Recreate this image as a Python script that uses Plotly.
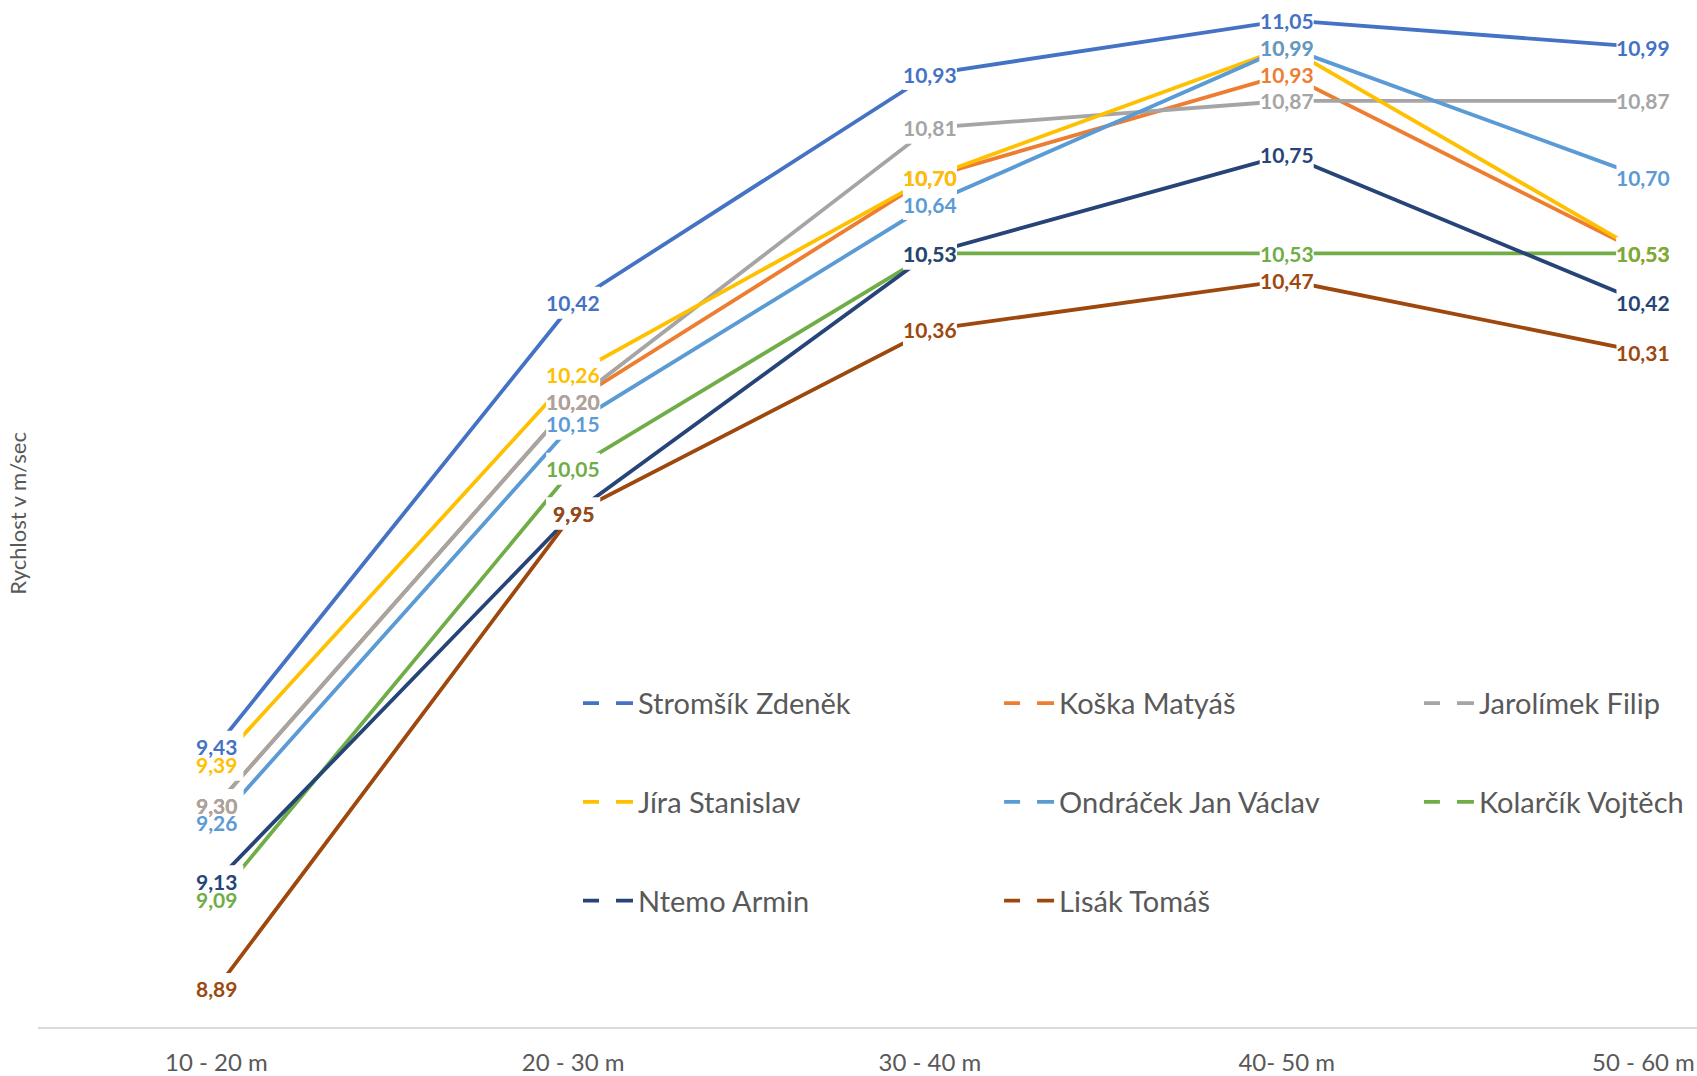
import plotly.graph_objects as go

categories = ["10 - 20 m", "20 - 30 m", "30 - 40 m", "40- 50 m", "50 - 60 m"]

series_names = [
    "Stromšík Zdeněk", "Koška Matyáš", "Jarolímek Filip", "Jíra Stanislav",
    "Ondráček Jan Václav", "Kolarčík Vojtěch", "Ntemo Armin", "Lisák Tomáš",
]

stromsik = [9.43, 10.42, 10.93, 11.05, 10.99]
koska = [9.30, 10.20, 10.70, 10.93, 10.53]
jarolimek = [9.30, 10.20, 10.81, 10.87, 10.87]
jira = [9.39, 10.26, 10.70, 10.99, 10.53]
ondracek = [9.26, 10.15, 10.64, 10.99, 10.70]
kolarcik = [9.09, 10.05, 10.53, 10.53, 10.53]
ntemo = [9.13, 9.95, 10.53, 10.75, 10.42]
lisak = [8.89, 9.95, 10.36, 10.47, 10.31]

series_values = [stromsik, koska, jarolimek, jira, ondracek, kolarcik, ntemo, lisak]
colors = ["#4472C4", "#ED7D31", "#A5A5A5", "#FFC000",
          "#5B9BD5", "#70AD47", "#264478", "#9E480E"]
legend_ids = ["legend", "legend2", "legend3",
              "legend", "legend2", "legend3",
              "legend", "legend2"]

FONT = "Lato"
TEXT_GRAY = "#595959"

xpos = list(range(len(categories)))

fig = go.Figure()

for name, vals, col in zip(series_names, series_values, colors):
    fig.add_trace(go.Scatter(
        x=xpos, y=vals, mode="lines", name=name,
        line=dict(color=col, width=3.8),
        legendgroup=name, showlegend=False, hoverinfo="x+y+name",
    ))

# legend entries (dashed symbol as in the original)
for name, col, lg in zip(series_names, colors, legend_ids):
    fig.add_trace(go.Scatter(
        x=[None], y=[None], mode="lines", name=name,
        line=dict(color=col, width=3.8, dash="16px,17px,18px"),
        legendgroup=name, showlegend=True, legend=lg,
    ))


def fmt(v):
    return f"{v:.2f}".replace(".", ",")


# white label backgrounds that mask the line ends near each point
shapes = []
for vals in series_values:
    for xi, v in zip(xpos, vals):
        shapes.append(dict(
            type="rect", xref="x", yref="y",
            xsizemode="pixel", ysizemode="pixel",
            xanchor=xi, yanchor=v, x0=-27, x1=27, y0=-16, y1=16,
            fillcolor="white", line=dict(width=0), layer="above",
        ))

annotations = []
for vals, col in zip(series_values, colors):
    for xi, v in zip(xpos, vals):
        annotations.append(dict(
            x=xi, y=v, xref="x", yref="y", text=fmt(v),
            showarrow=False,
            font=dict(family=FONT, size=21, color=col, weight="bold"),
            xanchor="center", yanchor="middle",
        ))

annotations.append(dict(
    x=-0.0125, y=0.5, xref="paper", yref="paper",
    text="Rychlost v m/sec", textangle=-90, showarrow=False,
    xanchor="center", yanchor="middle",
    font=dict(family=FONT, size=22, color=TEXT_GRAY),
))

legend_common = dict(
    orientation="v", yanchor="top", xanchor="left",
    font=dict(family=FONT, size=29, color=TEXT_GRAY),
    bgcolor="rgba(0,0,0,0)", borderwidth=0,
    tracegroupgap=58, itemwidth=50,
)

fig.update_layout(
    width=1697, height=1076,
    margin=dict(l=38, r=0, t=0, b=49),
    plot_bgcolor="white", paper_bgcolor="white",
    font=dict(family=FONT, color=TEXT_GRAY),
    annotations=annotations,
    shapes=shapes,
    legend=dict(x=0.3255, y=0.340, **legend_common),
    legend2=dict(x=0.5793, y=0.340, **legend_common),
    legend3=dict(x=0.8324, y=0.340, **legend_common),
    xaxis=dict(
        range=[-0.5, 4.15], tickvals=xpos, ticktext=categories,
        showline=True, linecolor="#D9D9D9", linewidth=1.5,
        showgrid=False, zeroline=False,
        ticks="outside", ticklen=13, tickcolor="rgba(0,0,0,0)",
        tickfont=dict(family=FONT, size=24, color=TEXT_GRAY),
        automargin=False, fixedrange=True,
    ),
    yaxis=dict(
        range=[8.805, 11.095], visible=False, showgrid=False,
        zeroline=False, automargin=False, fixedrange=True,
    ),
    showlegend=True,
)

fig.write_html(
    "out.html",
    config={"displayModeBar": False},
    post_script="document.body.style.margin='0';document.body.style.overflow='hidden';",
)
